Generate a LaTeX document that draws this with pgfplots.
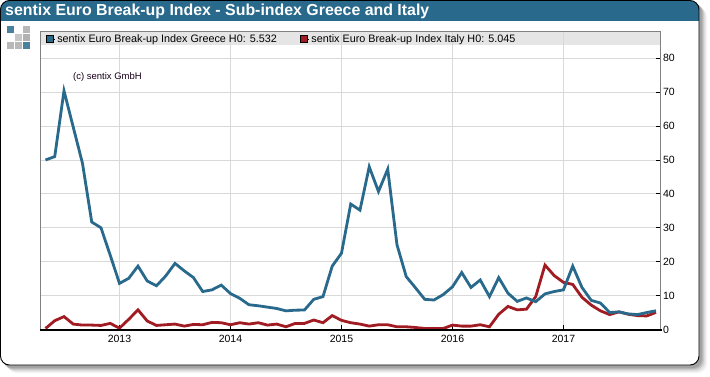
\documentclass[border=0pt]{standalone}
\usepackage{pgfplots}
\pgfplotsset{compat=1.18}
\usepackage{fontspec}
\setmainfont{Liberation Sans}
\definecolor{cblue}{HTML}{28698C}
\definecolor{cred}{HTML}{A01C22}
\definecolor{cgrid}{HTML}{D9D9D9}
\definecolor{cband}{HTML}{E5E5E5}
\pgfplotstableread{
m g
-8 50
-7 51
-6 70.4
-5 59.7
-4 49
-3 31.7
-2 30
-1 21.9
0 13.6
1 15.1
2 18.7
3 14.3
4 12.9
5 15.8
6 19.5
7 17.3
8 15.3
9 11.2
10 11.7
11 13.1
12 10.6
13 9.2
14 7.3
15 7
16 6.6
17 6.2
18 5.5
19 5.7
20 5.75
21 8.9
22 9.7
23 18.7
24 22.5
25 37
26 35.2
27 48
28 40.7
29 47.3
30 25
31 15.6
32 12.3
33 8.9
34 8.7
35 10.3
36 12.6
37 16.8
38 12.4
39 14.6
40 9.7
41 15.3
42 10.7
43 8.3
44 9.3
45 8.2
46 10.5
47 11.2
48 11.7
49 18.7
50 12.4
51 8.6
52 7.8
53 5
54 5.2
55 4.6
56 4.4
57 5
58 5.532
}\greece
\pgfplotstableread{
m r
-8 0.3
-7 2.6
-6 3.8
-5 1.6
-4 1.3
-3 1.3
-2 1.2
-1 1.8
0 0.4
1 3
2 5.8
3 2.5
4 1.2
5 1.4
6 1.6
7 1
8 1.5
9 1.4
10 2.1
11 2
12 1.4
13 2
14 1.6
15 2
16 1.3
17 1.6
18 0.8
19 1.8
20 1.8
21 2.8
22 2
23 4.1
24 2.7
25 2
26 1.6
27 1
28 1.4
29 1.4
30 0.8
31 0.8
32 0.6
33 0.3
34 0.3
35 0.3
36 1.3
37 1
38 1
39 1.4
40 0.8
41 4.5
42 6.8
43 5.8
44 6
45 9.7
46 19
47 15.9
48 13.9
49 13.3
50 9.5
51 7.2
52 5.5
53 4.4
54 5.2
55 4.5
56 4.1
57 4
58 5.045
}\italy
\begin{document}
\begin{tikzpicture}
\begin{scope}[x=1pt,y=-1pt,yshift=376pt]
\path (0,0) rectangle (710,376);
\foreach \o/\c in {8/4,7/8,6/13,5/20,4/28,3/36}{
  \fill[black!\c,rounded corners=9pt] (\o,\o) rectangle (699+\o,365+\o);
}
\fill[white,rounded corners=9pt] (0.5,0.5) rectangle (699,365);
\begin{scope}
\clip[rounded corners=9pt] (0.5,0.5) rectangle (699,365);
\fill[cblue] (0,0) rectangle (700,21);
\end{scope}
\draw[black,line width=0.9pt,rounded corners=9pt] (0.5,0.5) rectangle (699,365);
\node[anchor=west,inner sep=0pt,text=white,font=\bfseries\fontsize{15.9}{18}\selectfont] at (5,11) {sentix Euro Break-up Index - Sub-index Greece and Italy};
\fill[cblue!85] (7,26.3) rectangle +(6.7,6.7);
\fill[black!28] (23,26.3) rectangle +(6.7,6.7);
\fill[black!22] (15,34.3) rectangle +(6.7,6.7);
\fill[black!30] (23,34.3) rectangle +(6.7,6.7);
\fill[black!28] (7,42.3) rectangle +(6.7,6.7);
\fill[black!28] (15,42.3) rectangle +(6.7,6.7);
\fill[cblue!85] (23,42.3) rectangle +(6.7,6.7);
\fill[cband] (40.5,31) rectangle (660.5,45);
\end{scope}
\begin{axis}[
  at={(40.5pt,46.5pt)},anchor=south west,
  scale only axis,width=620pt,height=298.5pt,
  xmin=-8.54,xmax=58.49,ymin=0,ymax=88.05,
  axis y line*=right,
  axis x line*=bottom,
  axis line style={draw=none},
  tick style={black,line width=0.8pt},
  major tick length=5pt,
  tick align=inside,
  xtick={0,12,24,36,48},
  xticklabels={2013,2014,2015,2016,2017},
  ytick={0,10,...,80},
  grid=major,
  grid style={cgrid,line width=0.9pt},
  tick label style={font=\fontsize{10.5}{12}\selectfont},
  /pgf/number format/assume math mode=true,
  xticklabel style={yshift=-2pt},
  yticklabel style={xshift=-1pt},
  clip=true,
  legend columns=2,
  legend cell align=left,
  legend style={at={(4pt,298.5pt)},anchor=north west,draw=none,fill=none,inner sep=1pt,
    font=\fontsize{10.8}{12}\selectfont,
    /tikz/every even column/.append style={column sep=21pt}},
]
\addlegendimage{legend image code/.code={\path (0pt,0pt) -- (9pt,0pt);\draw[black,line width=0.8pt,fill=cblue] (0pt,-3.5pt) rectangle (7pt,3.5pt);}}
\addlegendentry{sentix Euro Break-up Index Greece H0: 5.532}
\addlegendimage{legend image code/.code={\path (0pt,0pt) -- (9pt,0pt);\draw[black,line width=0.8pt,fill=cred] (0pt,-3.5pt) rectangle (7pt,3.5pt);}}
\addlegendentry{sentix Euro Break-up Index Italy H0: 5.045}
\addplot[cred,line width=2.8pt,miter limit=10,forget plot] table[x=m,y=r] {\italy};
\addplot[cblue,line width=2.8pt,miter limit=10,forget plot] table[x=m,y=g] {\greece};
\node[anchor=west,inner sep=0pt,font=\fontsize{9.5}{12}\selectfont,text=black!80!violet] at (rel axis cs:0.0524,0.845) {(c) sentix GmbH};
\end{axis}
\begin{scope}[x=1pt,y=-1pt,yshift=376pt]
\draw[black!50,line width=1pt] (40.5,329.5) -- (40.5,31) -- (660.5,31) -- (660.5,329.5);
\draw[black,line width=2pt] (39.5,329.5) -- (661.5,329.5);
\end{scope}
\end{tikzpicture}
\end{document}
